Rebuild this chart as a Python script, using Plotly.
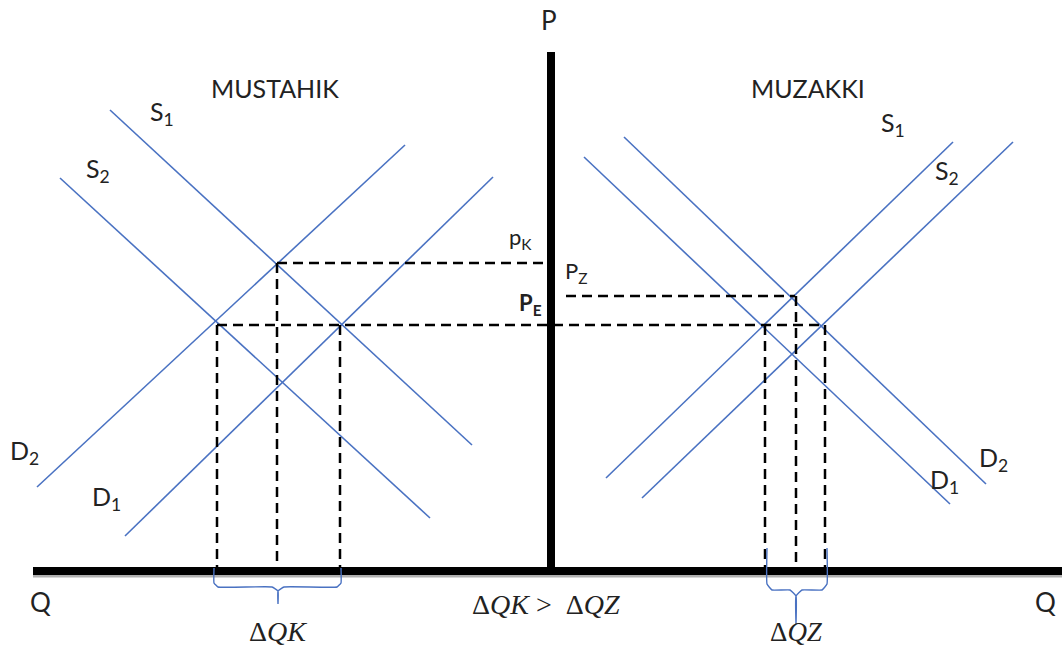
import plotly.graph_objects as go

W, H = 1062, 651

# ---- supply / demand curves (diagram units: pixel-like coordinates) ----
curve_names = ["L_S1", "L_S2", "L_D2", "L_D1", "R_A", "R_B", "R_C", "R_D"]
curve_x0 = [110, 60, 37, 125, 624, 584, 606, 642]
curve_y0 = [110, 178, 487, 536, 137, 157, 478, 498]
curve_x1 = [472, 430, 405, 493, 986, 950, 953, 1013]
curve_y1 = [445, 518, 145, 177, 484, 504, 142, 142]

# ---- dashed guide lines ----
hdash_y = [263, 325, 296]
hdash_x0 = [277, 217, 566]
hdash_x1 = [548, 825, 795]
vdash_x = [217, 277, 340, 765, 796, 825]
vdash_ytop = [325, 263, 325, 325, 296, 325]
vdash_ybot = [570, 570, 570, 570, 570, 570]

# ---- axes ----
q_axis_x = [33, 1062]
q_axis_y = 571
p_axis_x = 551
p_axis_y = [52, 575]

# ---- braces ----
braceK_x = [214, 214, 218, 272, 278, 278, 278, 284, 337, 341, 341]
braceK_y = [568, 583, 587, 587, 591, 604, 591, 587, 587, 583, 568]
braceZ_x = [767, 767, 772, 790, 796, 796, 796, 802, 822, 827, 827]
braceZ_y = [548, 584, 590, 590, 596, 624, 596, 590, 590, 584, 548]

# ---- labels ----
label_text = ["MUSTAHIK", "MUZAKKI", "S<sub>1</sub>", "S<sub>2</sub>", "D<sub>2</sub>", "D<sub>1</sub>",
              "S<sub>1</sub>", "S<sub>2</sub>", "D<sub>1</sub>", "D<sub>2</sub>",
              "p<sub>K</sub>", "P<sub>Z</sub>", "<b>P<sub>E</sub></b>", "P", "Q", "Q"]
label_x = [275, 808, 162, 98, 24, 106, 893, 947, 944, 993, 520, 576, 530, 549, 40, 1045]
label_y = [88, 88, 113, 170, 452, 498, 124, 172, 481, 459, 238, 272, 304, 20, 602, 602]
label_size = [25, 25, 25, 25, 25, 25, 25, 25, 25, 25, 22, 22, 22, 26, 26, 26]
math_text = ["Δ<i>QK</i>", "Δ<i>QK</i> >\u00a0\u00a0Δ<i>QZ</i>", "Δ<i>QZ</i>"]
math_x = [278, 546, 796]
math_y = [631, 604, 632]
math_size = [28, 28, 27]

BLUE = "#4a72c2"
fig = go.Figure()

for n, x0, y0, x1, y1 in zip(curve_names, curve_x0, curve_y0, curve_x1, curve_y1):
    fig.add_trace(go.Scatter(x=[x0, x1], y=[y0, y1], mode="lines",
                             line=dict(color=BLUE, width=1.6), name=n, hoverinfo="skip"))

for y, x0, x1 in zip(hdash_y, hdash_x0, hdash_x1):
    fig.add_trace(go.Scatter(x=[x0, x1], y=[y, y], mode="lines",
                             line=dict(color="black", width=2.5, dash="10px,6px"), hoverinfo="skip"))
for x, yt, yb in zip(vdash_x, vdash_ytop, vdash_ybot):
    fig.add_trace(go.Scatter(x=[x, x], y=[yt, yb], mode="lines",
                             line=dict(color="black", width=2.5, dash="10px,6px"), hoverinfo="skip"))

# axis shadow + axes
fig.add_trace(go.Scatter(x=q_axis_x, y=[q_axis_y + 5, q_axis_y + 5], mode="lines",
                         line=dict(color="#b0b0b0", width=3), hoverinfo="skip"))
fig.add_trace(go.Scatter(x=q_axis_x, y=[q_axis_y, q_axis_y], mode="lines",
                         line=dict(color="black", width=8), hoverinfo="skip"))
fig.add_trace(go.Scatter(x=[p_axis_x, p_axis_x], y=p_axis_y, mode="lines",
                         line=dict(color="black", width=8), hoverinfo="skip"))

for bx, by in ((braceK_x, braceK_y), (braceZ_x, braceZ_y)):
    fig.add_trace(go.Scatter(x=bx, y=by, mode="lines",
                             line=dict(color=BLUE, width=1.4, shape="spline", smoothing=0.3),
                             hoverinfo="skip"))

for t, x, y, s in zip(label_text, label_x, label_y, label_size):
    fig.add_annotation(x=x, y=y, text=t, showarrow=False,
                       font=dict(family="Lato, Open Sans, sans-serif", size=s, color="#222"))
for t, x, y, s in zip(math_text, math_x, math_y, math_size):
    fig.add_annotation(x=x, y=y, text=t, showarrow=False, borderpad=0,
                       font=dict(family="Liberation Serif, DejaVu Serif, serif", size=s, color="#222"))

fig.update_layout(
    width=W, height=H, showlegend=False,
    margin=dict(l=0, r=0, t=0, b=0),
    paper_bgcolor="white", plot_bgcolor="white",
    xaxis=dict(range=[0, W], visible=False, fixedrange=True),
    yaxis=dict(range=[H, 0], visible=False, fixedrange=True),
)
fig.write_html("out.html", config={"displayModeBar": False},
               post_script="document.body.style.margin='0px';document.body.style.overflow='hidden';")
